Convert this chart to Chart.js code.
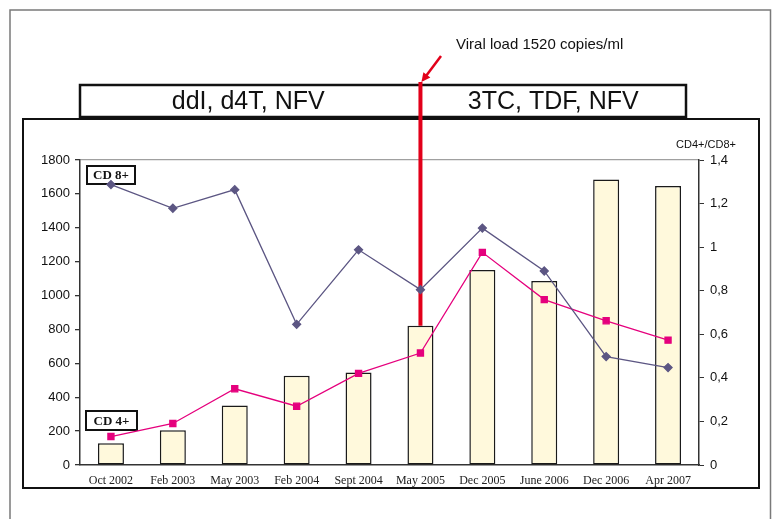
<!DOCTYPE html>
<html>
<head>
<meta charset="utf-8">
<script src="https://cdn.jsdelivr.net/npm/chart.js@4.4.1/dist/chart.umd.min.js"></script>
<style>
  html, body { margin: 0; padding: 0; background: #fff; }
  canvas { display: block; }
</style>
</head>
<body>
<canvas id="chartCD" width="772" height="519"></canvas>
<script>
// sampling dates
const dates = ["Oct 2002", "Feb 2003", "May 2003", "Feb 2004", "Sept 2004",
               "May 2005", "Dec 2005", "June 2006", "Dec 2006", "Apr 2007"];
// CD8+ count (cells/ul)
const cd8 = [1655, 1515, 1625, 830, 1270, 1035, 1398, 1145, 640, 575];
// CD4+ count (cells/ul)
const cd4 = [168, 245, 450, 347, 541, 661, 1255, 976, 851, 737];
// CD4+/CD8+ ratio, right axis
const ratio = [0.10, 0.16, 0.273, 0.41, 0.425, 0.639, 0.895, 0.845, 1.311, 1.281];

const leftTicks = [0, 200, 400, 600, 800, 1000, 1200, 1400, 1600, 1800];
const regimens = ["ddI, d4T, NFV", "3TC, TDF, NFV"];
const switchDate = "May 2005";
const viralNote = "Viral load 1520 copies/ml";

const SANS = "'Liberation Sans', Arial, sans-serif";
const SERIF = "'Liberation Serif', 'Times New Roman', serif";

// frames, regimen box, labels behind the data
const decorations = {
    id: "decorations",
    beforeDraw(chart) {
        const c = chart.ctx;
        const area = chart.chartArea;
        c.save();
        c.fillStyle = "#fff";
        c.fillRect(0, 0, chart.width, chart.height);

        // outer page frame
        c.strokeStyle = "#7a7a7a";
        c.lineWidth = 1.5;
        c.beginPath();
        c.moveTo(10, chart.height + 2);
        c.lineTo(10, 10);
        c.lineTo(770.5, 10);
        c.lineTo(770.5, chart.height + 2);
        c.stroke();

        // chart frame
        c.strokeStyle = "#111";
        c.lineWidth = 2;
        c.strokeRect(23, 119, 736, 369);

        // regimen box
        c.lineWidth = 2.5;
        c.strokeRect(area.left, 85, 606, 32);
        const xs = chart.scales.x.getPixelForValue(dates.indexOf(switchDate));
        c.fillStyle = "#111";
        c.font = "25px " + SANS;
        c.textAlign = "center";
        c.textBaseline = "middle";
        c.fillText(regimens[0], (area.left + xs) / 2 - 2, 102);
        c.fillText(regimens[1], (xs + area.left + 606) / 2, 102);

        // viral load note
        c.font = "15px " + SANS;
        c.textAlign = "left";
        c.fillText(viralNote, 456, 45);

        // right axis caption
        c.font = "11px " + SANS;
        c.textAlign = "center";
        c.fillText("CD4+/CD8+", 706, 145);
        c.restore();
    },
    beforeDatasetsDraw(chart) {
        const c = chart.ctx;
        const area = chart.chartArea;
        const i = dates.indexOf(switchDate);
        const x = chart.scales.x.getPixelForValue(i);
        const yBottom = chart.scales.y1.getPixelForValue(ratio[i]);
        c.save();
        c.strokeStyle = "#e2001a";
        c.fillStyle = "#e2001a";
        // switch marker
        c.lineWidth = 4;
        c.beginPath();
        c.moveTo(x, 82);
        c.lineTo(x, yBottom);
        c.stroke();
        // arrow from the note
        c.lineWidth = 2.5;
        c.beginPath();
        c.moveTo(441, 56);
        c.lineTo(426, 76);
        c.stroke();
        const ang = Math.atan2(82 - 56, x + 1 - 441);
        c.beginPath();
        c.moveTo(x + 1, 82);
        c.lineTo(x + 1 - 10 * Math.cos(ang - 0.45), 82 - 10 * Math.sin(ang - 0.45));
        c.lineTo(x + 1 - 10 * Math.cos(ang + 0.45), 82 - 10 * Math.sin(ang + 0.45));
        c.closePath();
        c.fill();

        // series tags
        const tag = (text, tx, ty, w, h) => {
            c.fillStyle = "#fff";
            c.fillRect(tx, ty, w, h);
            c.strokeStyle = "#111";
            c.lineWidth = 2;
            c.strokeRect(tx, ty, w, h);
            c.fillStyle = "#111";
            c.font = "bold 13px " + SERIF;
            c.textAlign = "center";
            c.textBaseline = "middle";
            c.fillText(text, tx + w / 2, ty + h / 2 + 1);
        };
        tag("CD 8+", area.left + 7, 166, 48, 18);
        tag("CD 4+", area.left + 6, 411, 51, 19);
        c.restore();
    }
};

new Chart(document.getElementById("chartCD"), {
    type: "bar",
    data: {
        labels: dates,
        datasets: [
            {
                type: "line",
                label: "CD 8+",
                data: cd8,
                yAxisID: "y",
                borderColor: "#5c5683",
                backgroundColor: "#5c5683",
                borderWidth: 1.3,
                pointStyle: "rectRot",
                pointRadius: 4,
                tension: 0,
                order: 1,
            },
            {
                type: "line",
                label: "CD 4+",
                data: cd4,
                yAxisID: "y",
                borderColor: "#e5007d",
                backgroundColor: "#e5007d",
                borderWidth: 1.3,
                pointStyle: "rect",
                pointRadius: 4.3,
                tension: 0,
                order: 1,
            },
            {
                label: "CD4+/CD8+",
                data: ratio,
                yAxisID: "y1",
                backgroundColor: "#fff9dc",
                borderColor: "#1a1a1a",
                borderWidth: 1.5,
                borderSkipped: false,
                categoryPercentage: 1,
                barPercentage: 0.42,
                order: 2,
            },
        ],
    },
    options: {
        responsive: false,
        animation: false,
        layout: { padding: { top: 160, left: 0, right: 0, bottom: 0 } },
        plugins: {
            legend: { display: false },
            tooltip: { enabled: false },
        },
        scales: {
            x: {
                offset: true,
                grid: { display: false },
                border: { color: "#333", width: 1.5 },
                ticks: {
                    color: "#222",
                    padding: 1,
                    maxRotation: 0,
                    autoSkip: false,
                    font: { family: SERIF, size: 12 },
                },
                afterFit(scale) { scale.height = 54; },
            },
            y: {
                position: "left",
                min: 0,
                max: 1800,
                afterBuildTicks(scale) {
                    scale.ticks = leftTicks.map((v) => ({ value: v }));
                },
                grid: {
                    color: (ctx) => (ctx.tick && ctx.tick.value === 1800 ? "#a0a0a0" : "rgba(0,0,0,0)"),
                    tickColor: "#333",
                    tickLength: 5,
                    lineWidth: 1.3,
                },
                border: { color: "#333", width: 1.5 },
                ticks: {
                    color: "#111",
                    padding: 5,
                    font: { family: SANS, size: 13 },
                    callback: (v) => String(v),
                },
                afterFit(scale) { scale.width = 80; },
            },
            y1: {
                position: "right",
                min: 0,
                max: 1.4,
                ticks: {
                    stepSize: 0.2,
                    color: "#111",
                    padding: 6,
                    font: { family: SANS, size: 13 },
                    callback: (v) => {
                        const r = Math.round(v * 10) / 10;
                        return String(r).replace(".", ",");
                    },
                },
                grid: {
                    drawOnChartArea: false,
                    tickColor: "#333",
                    tickLength: 5,
                },
                border: { color: "#333", width: 1.5 },
                afterFit(scale) { scale.width = 73; },
            },
        },
    },
    plugins: [decorations],
});
</script>
</body>
</html>
